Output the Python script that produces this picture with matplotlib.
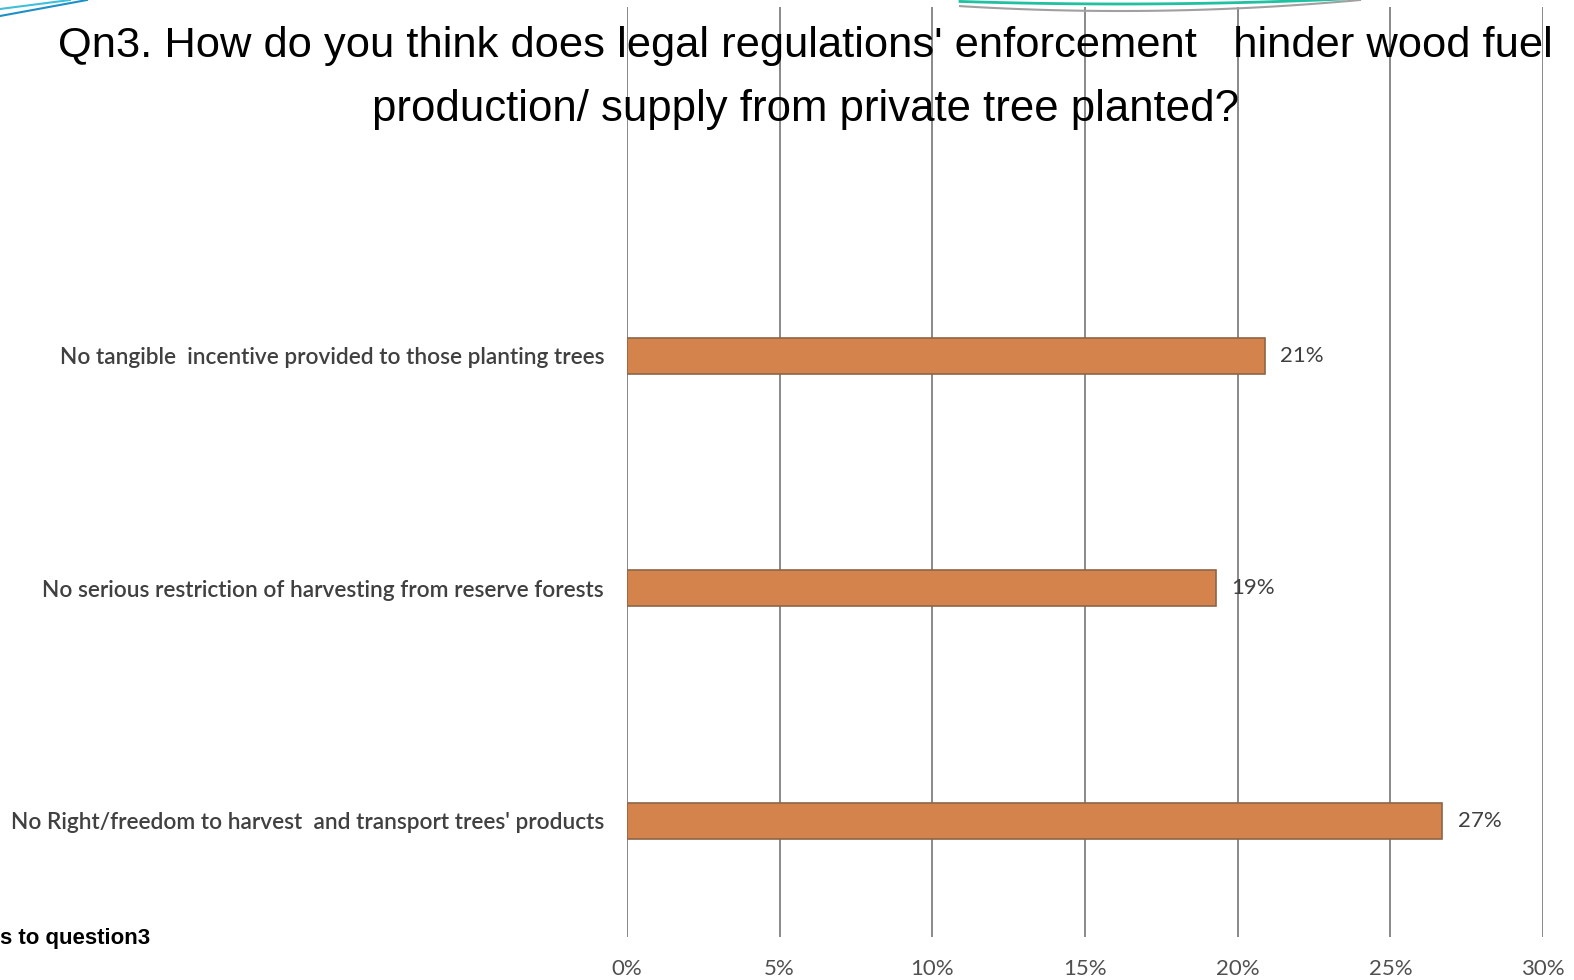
import numpy as np
import matplotlib.pyplot as plt
from matplotlib.lines import Line2D

# data (bottom to top, as drawn)
categories = ["No Right/freedom to harvest  and transport trees' products",
              "No serious restriction of harvesting from reserve forests",
              "No tangible  incentive provided to those planting trees"]
values = [26.7, 19.3, 20.9]
value_labels = ["27%", "19%", "21%"]
ticks = [0, 5, 10, 15, 20, 25, 30]
tick_labels = ["0%", "5%", "10%", "15%", "20%", "25%", "30%"]

W, H = 1574, 980
fig = plt.figure(figsize=(W / 100, H / 100), dpi=100)
fig.patch.set_facecolor("white")

ax = fig.add_axes([627 / W, 1 - 937 / H, (1543 - 627) / W, (937 - 7) / H])
ax.set_facecolor("none")

ypos = list(range(len(categories)))
ax.barh(ypos, values, height=0.155, color="#D4834C", edgecolor="#8E6548",
        linewidth=1.2, zorder=3)

for y, v, lab in zip(ypos, values, value_labels):
    ax.text(v + 0.5, y, lab, va="center", ha="left", fontsize=16,
            color="#404040", family="Lato")

ax.set_xlim(0, 30)
ax.set_ylim(-0.5, 3.5)
ax.set_xticks(ticks)
ax.set_xticklabels(tick_labels, fontsize=16, color="#505050", family="Lato")
ax.set_yticks(ypos)
ax.set_yticklabels(categories, fontsize=16.3, color="#404040",
                   family="Lato", fontweight="semibold")
ax.tick_params(axis="both", length=0)
ax.tick_params(axis="x", pad=16)
ax.tick_params(axis="y", pad=16.5)
for s in ax.spines.values():
    s.set_visible(False)
for t in ticks:
    ax.axvline(t, color="#808080", linewidth=1.3, zorder=1)

title_font = ["Liberation Sans", "DejaVu Sans"]
fig.text(805 / W, 1 - 46 / H,
         "Qn3. How do you think does legal regulations' enforcement   hinder wood fuel",
         ha="center", va="center", fontsize=31.3, family=title_font, color="black")
fig.text(805 / W, 1 - 109 / H, "production/ supply from private tree planted?",
         ha="center", va="center", fontsize=31.5, family=title_font, color="black")

fig.text(0, 1 - 938 / H, "s to question3", ha="left", va="center",
         fontsize=16, fontweight="bold", family=title_font, color="black")

# decorative slide lines
fig.add_artist(Line2D([0, 87 / W], [1 - 16 / H, 1.0], color="#1E90C8", lw=1.5))
fig.add_artist(Line2D([0, 70 / W], [1 - 9 / H, 1.0], color="#3FC0D8", lw=1.5))
xs = np.linspace(960, 1360, 50)
fig.add_artist(Line2D(xs / W, 1 - (11 - 11 * ((xs - 1120) / 240) ** 2) / H,
                      color="#A0A0A0", lw=1.5))
fig.add_artist(Line2D(xs / W, 1 - (4 - 4 * ((xs - 1120) / 200) ** 2) / H,
                      color="#20C0A0", lw=2))

fig.savefig("out.png", dpi=100)
